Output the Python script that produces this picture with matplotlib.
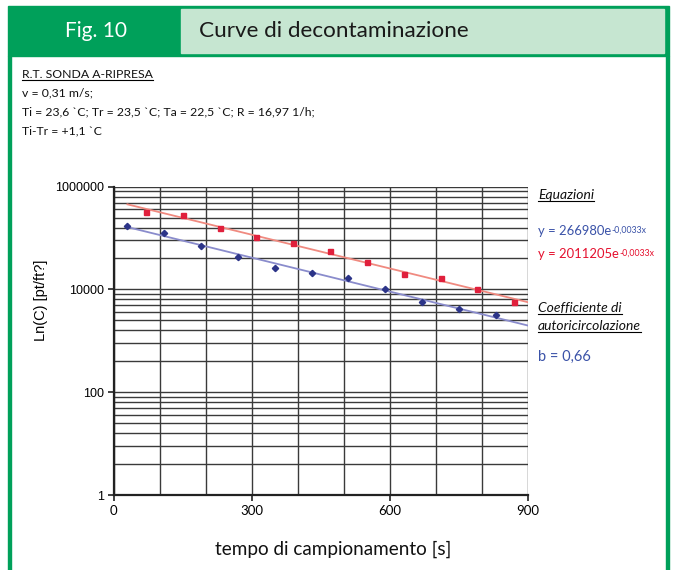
import numpy as np
import matplotlib
matplotlib.use("Agg")
import matplotlib.pyplot as plt
from matplotlib.patches import Rectangle
from matplotlib.lines import Line2D
from matplotlib.ticker import LogLocator, FixedLocator, NullFormatter

# sampling times [s] and concentrations [pt/ft3]
t_ripresa = [70, 150, 230, 310, 390, 470, 550, 630, 710, 790, 870]
c_ripresa = [316000, 280000, 154500, 106000, 78900, 55900, 34600, 19950, 16450, 10040, 5610]
t_sonda = [30, 110, 190, 270, 350, 430, 510, 590, 670, 750, 830]
c_sonda = [173500, 126700, 69900, 43300, 25700, 21100, 16450, 10180, 5770, 4100, 3130]
trend_range = [30, 900]

x_ticks = [0, 300, 600, 900]
x_grid = list(range(0, 901, 100))
y_ticks = [1, 100, 10000, 1000000]

info_lines = ["v = 0,31 m/s;",
              "Ti = 23,6 `C; Tr = 23,5 `C; Ta = 22,5 `C; R = 16,97 1/h;",
              "Ti-Tr = +1,1 `C"]

GREEN = '#00a05a'
LIGHT = '#c6e6d1'
BLUE_PT = '#2c3488'
BLUE_LN = '#8a8ccc'
RED_PT = '#e0203c'
RED_LN = '#f08a80'
BLUE_TXT = '#3a52a8'
RED_TXT = '#e5102e'
BODY = 'Lato'

W, H = 677, 570
fig = plt.figure(figsize=(W / 100, H / 100), dpi=100)


def fx(px):
    return px / W


def fy(py):
    return 1 - py / H


# frame and header
fig.patches.append(Rectangle((fx(8), fy(56)), fx(661) - fx(0), fy(6) - fy(56),
                             transform=fig.transFigure, color=GREEN, zorder=0))
fig.patches.append(Rectangle((fx(181), fy(53)), fx(664) - fx(181), fy(9) - fy(53),
                             transform=fig.transFigure, color=LIGHT, zorder=1))
for xb in (8, 666):
    fig.patches.append(Rectangle((fx(xb), 0), fx(3), fy(56),
                                 transform=fig.transFigure, color=GREEN, zorder=0))

fig.text(fx(96), fy(31), "Fig. 10", color='white', fontsize=15, family=BODY,
         ha='center', va='center')
fig.text(fx(199), fy(31), "Curve di decontaminazione", color='#1a1a1a', fontsize=16.2,
         family=BODY, ha='left', va='center')

underlines = []
t0 = fig.text(fx(22), fy(75), "R.T. SONDA A-RIPRESA", fontsize=8.8, family=BODY,
              ha='left', va='center', color='#111111')
underlines.append(t0)
for i, s in enumerate(info_lines):
    fig.text(fx(22), fy(93 + 19 * i), s, fontsize=8.8, family=BODY, ha='left',
             va='center', color='#111111')

# chart
ax = fig.add_axes([fx(113.6), fy(495), fx(528) - fx(113.6), fy(186.6) - fy(495)])
ax.set_yscale('log', base=100)
ax.set_xlim(0, 900)
ax.set_ylim(1, 1000000)

ax.yaxis.set_major_locator(FixedLocator(y_ticks))
ax.yaxis.set_minor_locator(LogLocator(base=100, subs=[k ** 2 for k in range(2, 10)]))
ax.yaxis.set_minor_formatter(NullFormatter())
ax.set_yticklabels([str(v) for v in y_ticks], family='Liberation Sans', fontsize=9)
ax.xaxis.set_major_locator(FixedLocator(x_ticks))
ax.xaxis.set_minor_locator(FixedLocator(x_grid))
ax.set_xticklabels([str(v) for v in x_ticks], family=BODY, fontsize=9.5)

ax.grid(True, which='both', color='#3a3a3a', linewidth=1.0)
ax.set_axisbelow(True)
for side in ('top', 'right'):
    ax.spines[side].set_visible(False)
for side in ('left', 'bottom'):
    ax.spines[side].set_linewidth(1.6)
    ax.spines[side].set_color('#222222')
ax.tick_params(which='major', length=4, width=1.2, color='#222222', pad=3)
ax.tick_params(which='minor', length=0)

# exponential trend lines fitted on the samples
tt = np.array(trend_range, dtype=float)
for t, c, pc, lc, mk in ((t_sonda, c_sonda, BLUE_PT, BLUE_LN, 'D'),
                         (t_ripresa, c_ripresa, RED_PT, RED_LN, 's')):
    k, b = np.polyfit(np.array(t, float), np.log(np.array(c, float)), 1)
    ax.plot(tt, np.exp(b + k * tt), color=lc, linewidth=1.3, zorder=3)
    ax.plot(t, c, linestyle='none', marker=mk, markersize=3.6 if mk == 's' else 3.2,
            color=pc, zorder=4)

fig.text(fx(41), fy(300), "Ln(C) [pt/ft?]", family='Liberation Sans', fontsize=10.5,
         rotation=90, ha='center', va='center')
fig.text(fx(333), fy(549), "tempo di campionamento [s]", family=BODY, fontsize=13.6,
         ha='center', va='center', color='#111111')

# side notes
t1 = fig.text(fx(538), fy(195), "Equazioni", family=BODY, style='italic', fontsize=10,
              ha='left', va='center', color='#111111')
eq_blue = fig.text(fx(538), fy(231), "y = 266980e", family=BODY, fontsize=9.4,
                   ha='left', va='center', color=BLUE_TXT)
eq_red = fig.text(fx(538), fy(254), "y = 2011205e", family=BODY, fontsize=9.4,
                  ha='left', va='center', color=RED_TXT)
t2 = fig.text(fx(538), fy(308), "Coefficiente di", family=BODY, style='italic', fontsize=10,
              ha='left', va='center', color='#111111')
t3 = fig.text(fx(538), fy(326), "autoricircolazione", family=BODY, style='italic',
              fontsize=10, ha='left', va='center', color='#111111')
underlines += [t1, t2, t3]
fig.text(fx(538), fy(357), "b = 0,66", family=BODY, fontsize=10.5, ha='left', va='center',
         color=BLUE_TXT)

fig.canvas.draw()
r = fig.canvas.get_renderer()
inv = fig.transFigure.inverted()
for txt in underlines:
    bb = txt.get_window_extent(r).transformed(inv)
    yy = bb.y0 + 0.5 / H
    fig.lines.append(Line2D([bb.x0, bb.x1], [yy, yy], transform=fig.transFigure,
                            color='black', linewidth=0.8))
# exponents placed right after the base of each equation
for base, col in ((eq_blue, BLUE_TXT), (eq_red, RED_TXT)):
    bb = base.get_window_extent(r).transformed(inv)
    fig.text(bb.x1 + 0.5 / W, bb.y1 - 1.0 / H, "-0,0033x", family=BODY, fontsize=6.3,
             ha='left', va='top', color=col)

fig.savefig("out.png", dpi=100, facecolor='white')
